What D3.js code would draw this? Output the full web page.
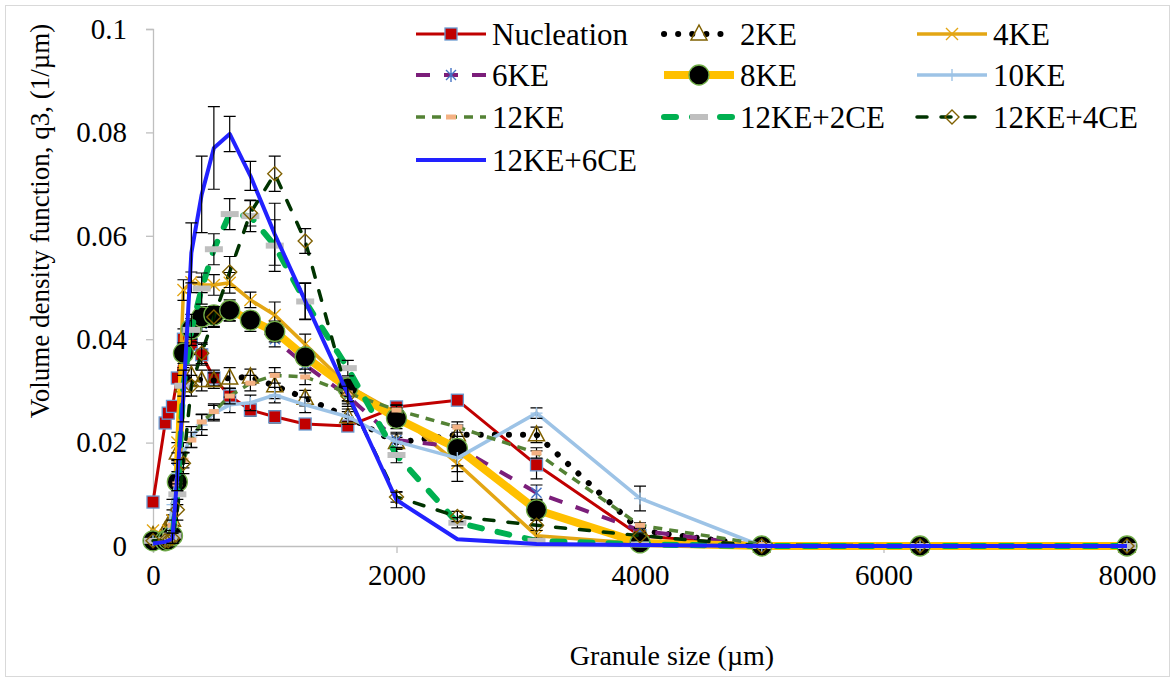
<!DOCTYPE html>
<html>
<head>
<meta charset="utf-8">
<script src="https://cdn.jsdelivr.net/npm/d3@7"></script>
<style>
  body { margin: 0; background: #fff; }
  text { font-family: "Liberation Serif", "Times New Roman", serif; fill: #000; }
</style>
</head>
<body>
<div id="chart"></div>
<script>
// granule size classes (µm)
const sizes = [0, 100, 125, 160, 200, 250, 315, 400, 500, 630, 800, 1000, 1250, 1600, 2000, 2500, 3150, 4000, 5000, 6300, 8000];

// volume density q3 (1/µm)
const nucleation = [0.0085, 0.0238, 0.0257, 0.027, 0.0325, 0.040, 0.039, 0.037, 0.0325, 0.029, 0.0263, 0.025, 0.0236, 0.0232, 0.0269, 0.0282, 0.0157, 0.002, 0, 0, 0];
const ke2 = [0.002, 0.003, 0.004, 0.005, 0.018, 0.031, 0.033, 0.032, 0.032, 0.0325, 0.0327, 0.031, 0.0286, 0.025, 0.020, 0.0215, 0.0215, 0.003, 0, 0, 0];
const ke4 = [0.003, 0.002, 0.003, 0.005, 0.020, 0.0495, 0.051, 0.0505, 0.0505, 0.0509, 0.0476, 0.0447, 0.039, 0.031, 0.0257, 0.016, 0.002, 0.0005, 0, 0, 0];
const ke6 = [0.001, 0.001, 0.002, 0.003, 0.015, 0.036, 0.041, 0.043, 0.044, 0.045, 0.043, 0.040, 0.035, 0.029, 0.0205, 0.0192, 0.0103, 0.003, 0, 0, 0];
const ke8 = [0.001, 0.001, 0.0012, 0.002, 0.0124, 0.0373, 0.042, 0.0443, 0.0447, 0.0456, 0.0437, 0.0415, 0.0366, 0.0306, 0.0247, 0.0189, 0.007, 0.0006, 0, 0, 0];
const ke10 = [0.001, 0.001, 0.002, 0.008, 0.014, 0.018, 0.0211, 0.0234, 0.0257, 0.0273, 0.0277, 0.0292, 0.0273, 0.025, 0.0202, 0.017, 0.0257, 0.0092, 0, 0, 0];
const ke12 = [0.001, 0.001, 0.002, 0.004, 0.012, 0.0166, 0.0205, 0.024, 0.026, 0.029, 0.0315, 0.033, 0.0327, 0.0296, 0.0263, 0.023, 0.018, 0.004, 0.0003, 0, 0];
const ke12ce2 = [0.001, 0.001, 0.0012, 0.002, 0.010, 0.031, 0.0418, 0.0498, 0.0574, 0.0642, 0.0638, 0.0581, 0.0473, 0.0344, 0.0176, 0.0045, 0.001, 0.0003, 0, 0, 0];
const ke12ce4 = [0.001, 0.001, 0.001, 0.0015, 0.007, 0.016, 0.031, 0.0373, 0.0443, 0.053, 0.0644, 0.072, 0.059, 0.029, 0.0095, 0.0057, 0.004, 0.002, 0, 0, 0];
const ke12ce6 = [0.0005, 0.0008, 0.001, 0.0015, 0.0137, 0.029, 0.0567, 0.068, 0.077, 0.0797, 0.0716, 0.0603, 0.0474, 0.0294, 0.0089, 0.0013, 0.0004, 0.0002, 0, 0, 0];

// error bar half-widths
const errNucleation = [0, 0, 0.001, 0.001, 0.001, 0.002, 0.002, 0.002, 0.0015, 0.0015, 0.0012, 0.0012, 0.001, 0.001, 0.001, 0.001, 0.0027, 0.0005, 0, 0, 0];
const errKe2 = [0, 0, 0, 0.001, 0.002, 0.002, 0.002, 0.002, 0.0015, 0.002, 0.0015, 0.0025, 0.0015, 0.001, 0.001, 0.0015, 0.0015, 0.0005, 0, 0, 0];
const errKe4 = [0, 0, 0, 0.001, 0.002, 0.002, 0.002, 0.0015, 0.002, 0.002, 0.0015, 0.0025, 0.002, 0.0015, 0.0015, 0.0035, 0.001, 0.0005, 0, 0, 0];
const errKe6 = [0, 0, 0, 0.001, 0.0015, 0.0015, 0.0015, 0.0015, 0.0015, 0.0015, 0.0015, 0.0015, 0.0015, 0.0015, 0.0015, 0.002, 0.0015, 0.0005, 0, 0, 0];
const errKe8 = [0, 0, 0, 0.001, 0.002, 0.002, 0.002, 0.002, 0.0015, 0.002, 0.0015, 0.002, 0.0015, 0.0015, 0.002, 0.0045, 0.002, 0.0005, 0, 0, 0];
const errKe10 = [0, 0, 0, 0.001, 0.002, 0.002, 0.002, 0.002, 0.0015, 0.0015, 0.0015, 0.0015, 0.0015, 0.0015, 0.0015, 0.0015, 0.001, 0.0024, 0, 0, 0];
const errKe12 = [0, 0, 0, 0.001, 0.0015, 0.0015, 0.0015, 0.0015, 0.0015, 0.0015, 0.0015, 0.0015, 0.0015, 0.0015, 0.001, 0.001, 0.001, 0.0005, 0, 0, 0];
const errKe12ce2 = [0, 0, 0, 0.001, 0.002, 0.002, 0.003, 0.003, 0.003, 0.003, 0.003, 0.005, 0.0035, 0.0015, 0.0015, 0.001, 0.0005, 0, 0, 0, 0];
const errKe12ce4 = [0, 0, 0, 0.001, 0.002, 0.002, 0.002, 0.002, 0.002, 0.003, 0.0025, 0.0034, 0.0024, 0.002, 0.001, 0.001, 0.001, 0.0005, 0, 0, 0];
const errKe12ce6 = [0, 0, 0, 0.001, 0.003, 0.005, 0.0058, 0.0074, 0.008, 0.0034, 0.0028, 0.006, 0.0035, 0.0015, 0.0015, 0, 0, 0, 0, 0, 0];

const series = [
  {name: 'Nucleation', values: nucleation, err: errNucleation, color: '#C00000', width: 3, dash: null, marker: 'square'},
  {name: '2KE', values: ke2, err: errKe2, color: '#000', width: 6, dash: '0.1,14', cap: 'round', marker: 'triangle'},
  {name: '4KE', values: ke4, err: errKe4, color: '#E3A614', width: 3.5, dash: null, marker: 'x'},
  {name: '6KE', values: ke6, err: errKe6, color: '#7B1E7A', width: 4, dash: '14,14', marker: 'asterisk'},
  {name: '8KE', values: ke8, err: errKe8, color: '#FFC000', width: 8, dash: null, marker: 'circle'},
  {name: '10KE', values: ke10, err: errKe10, color: '#9DC3E6', width: 3.5, dash: null, marker: 'plus'},
  {name: '12KE', values: ke12, err: errKe12, color: '#548235', width: 3.5, dash: '9,7', marker: 'salmon'},
  {name: '12KE+2CE', values: ke12ce2, err: errKe12ce2, color: '#00B050', width: 6, dash: '12,16', cap: 'round', marker: 'gray'},
  {name: '12KE+4CE', values: ke12ce4, err: errKe12ce4, color: '#003300', width: 3.5, dash: '10,14', cap: 'round', marker: 'diamond'},
  {name: '12KE+6CE', values: ke12ce6, err: errKe12ce6, color: '#2222FF', width: 4, dash: null, marker: null}
];

const serif = '"Liberation Serif", "Times New Roman", serif';
const width = 1173, height = 681;
const svg = d3.select('#chart').append('svg')
  .attr('width', width)
  .attr('height', height)
  .attr('font-family', serif);

// chart area border
svg.append('rect')
  .attr('x', 5.5).attr('y', 5.5)
  .attr('width', 1164).attr('height', 671)
  .attr('fill', 'none').attr('stroke', '#d9d9d9');

const x = d3.scaleLinear().domain([0, 8000]).range([153, 1127]);
const y = d3.scaleLinear().domain([0, 0.1]).range([546, 29]);

// axes
const yAxis = svg.append('g')
  .attr('transform', `translate(${x(0)},0)`)
  .call(d3.axisLeft(y).tickValues([0, 0.02, 0.04, 0.06, 0.08, 0.1])
    .tickFormat(d => String(+d.toFixed(2))).tickSize(7).tickPadding(19));
const xAxis = svg.append('g')
  .attr('transform', `translate(0,${y(0)})`)
  .call(d3.axisBottom(x).tickValues([0, 2000, 4000, 6000, 8000])
    .tickFormat(d3.format('d')).tickSize(7).tickPadding(11));

[yAxis, xAxis].forEach(g => {
  g.attr('font-family', serif).attr('font-size', null);
  g.select('.domain').attr('stroke', '#bfbfbf').attr('stroke-width', 1.3);
  g.selectAll('.tick line').attr('stroke', '#bfbfbf').attr('stroke-width', 1.3);
  g.selectAll('.tick text').style('font-size', '29px').style('font-family', serif);
});

// axis titles
svg.append('text')
  .attr('x', 672).attr('y', 665)
  .attr('text-anchor', 'middle')
  .style('font-size', '28px')
  .text('Granule size (µm)');
svg.append('text')
  .attr('transform', 'translate(49,221) rotate(-90)')
  .attr('text-anchor', 'middle')
  .style('font-size', '27px')
  .text('Volume density function, q3, (1/µm)');

// marker drawing
function drawMarker(g, type, cx, cy) {
  const m = g.append('g').attr('transform', `translate(${cx},${cy})`);
  if (type === 'square') {
    m.append('rect').attr('x', -6).attr('y', -6).attr('width', 12).attr('height', 12)
      .attr('fill', '#C00000').attr('stroke', '#6A9BD1').attr('stroke-width', 1.3);
  } else if (type === 'triangle') {
    m.append('path').attr('d', 'M0,-9L8,6L-8,6Z')
      .attr('fill', 'none').attr('stroke', '#7F6000').attr('stroke-width', 1.5);
  } else if (type === 'x') {
    m.append('path').attr('d', 'M-6,-6L6,6M-6,6L6,-6')
      .attr('stroke', '#E3A614').attr('stroke-width', 1.4);
  } else if (type === 'asterisk') {
    m.append('path').attr('d', 'M-5,-5L5,5M-5,5L5,-5M0,-7L0,7')
      .attr('stroke', '#4472C4').attr('stroke-width', 1.4);
  } else if (type === 'circle') {
    m.append('circle').attr('r', 10)
      .attr('fill', '#000').attr('stroke', '#70AD47').attr('stroke-width', 1.3);
  } else if (type === 'plus') {
    m.append('path').attr('d', 'M-6,0L6,0M0,-6L0,6')
      .attr('stroke', '#9DC3E6').attr('stroke-width', 1.4);
  } else if (type === 'salmon') {
    m.append('rect').attr('x', -5).attr('y', -2.5).attr('width', 10).attr('height', 5)
      .attr('fill', '#F4B183');
  } else if (type === 'gray') {
    m.append('rect').attr('x', -9).attr('y', -3).attr('width', 18).attr('height', 6)
      .attr('fill', '#BFBFBF');
  } else if (type === 'diamond') {
    m.append('path').attr('d', 'M0,-7L7,0L0,7L-7,0Z')
      .attr('fill', 'none').attr('stroke', '#7F6000').attr('stroke-width', 1.4);
  }
}

const line = d3.line()
  .x(d => x(d.size))
  .y(d => y(d.value));

const plot = svg.append('g');
series.forEach(s => {
  const data = sizes.map((size, i) => ({size, value: s.values[i], err: s.err[i]}));
  const g = plot.append('g');

  g.append('path')
    .datum(data)
    .attr('d', line)
    .attr('fill', 'none')
    .attr('stroke', s.color)
    .attr('stroke-width', s.width)
    .attr('stroke-dasharray', s.dash)
    .attr('stroke-linecap', s.cap || 'butt')
    .attr('stroke-linejoin', 'round');

  // error bars
  data.filter(d => d.err > 0).forEach(d => {
    const px = x(d.size), top = y(d.value + d.err), bot = y(Math.max(0, d.value - d.err));
    g.append('path')
      .attr('d', `M${px},${top}L${px},${bot}M${px - 6},${top}L${px + 6},${top}M${px - 6},${bot}L${px + 6},${bot}`)
      .attr('stroke', '#000').attr('stroke-width', 1.2).attr('fill', 'none');
  });

  if (s.marker) data.forEach(d => drawMarker(g, s.marker, x(d.size), y(d.value)));
});

// legend
const legendCols = [416, 664, 917];
const legendRows = [34, 75, 117, 160];
series.forEach((s, i) => {
  const lx = legendCols[i % 3], ly = legendRows[Math.floor(i / 3)];
  const g = svg.append('g');
  g.append('line')
    .attr('x1', lx).attr('x2', lx + 70).attr('y1', ly).attr('y2', ly)
    .attr('stroke', s.color)
    .attr('stroke-width', s.width)
    .attr('stroke-dasharray', s.dash)
    .attr('stroke-linecap', s.cap || 'butt');
  if (s.marker) drawMarker(g, s.marker, lx + 35, ly);
  g.append('text')
    .attr('x', lx + 76).attr('y', ly)
    .attr('dy', '0.35em')
    .style('font-size', '31px')
    .text(s.name);
});
</script>
</body>
</html>
